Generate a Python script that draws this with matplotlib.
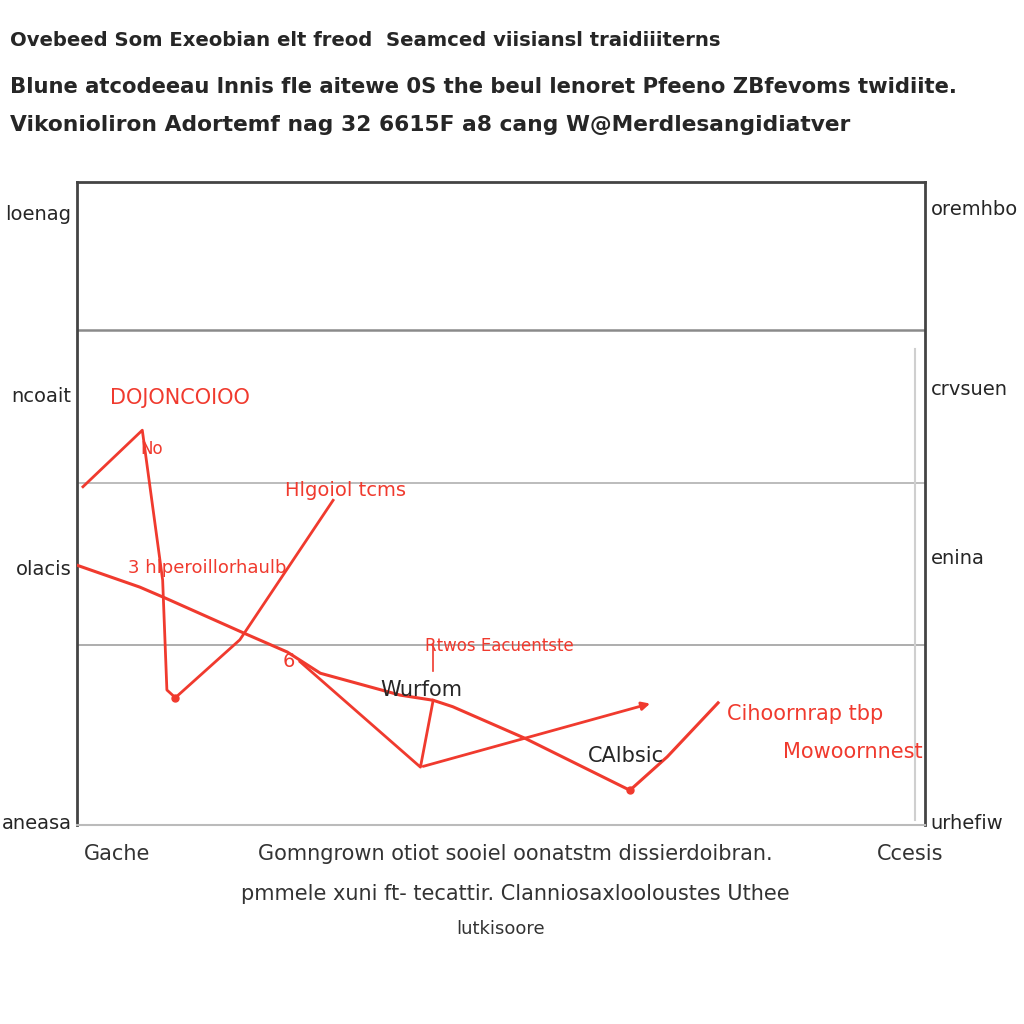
import matplotlib.pyplot as plt

RED = "#f03a2e"
DARK = "#262626"

# -------------------- data --------------------
title_lines = [
    "Ovebeed Som Exeobian elt freod  Seamced viisiansl traidiiiterns",
    "Blune atcodeeau lnnis fle aitewe 0S the beul lenoret Pfeeno ZBfevoms twidiite.",
    "Vikonioliron Adortemf nag 32 6615F a8 cang W@Merdlesangidiatver",
]

main_x = [0, 7.4, 10.4, 20.1, 24.8, 28.7, 38.1, 42.0, 44.3, 52.8, 65.2, 69.6, 75.6]
main_y = [40.4, 37.0, 35.3, 29.6, 26.9, 23.6, 20.2, 19.4, 18.4, 13.5, 5.4, 10.6, 19.0]

zig_x = [0.7, 7.7, 10.1, 10.6, 11.6, 19.2, 30.2]
zig_y = [52.6, 61.4, 38.1, 21.0, 19.8, 28.8, 50.5]

v_x = [26.3, 40.5, 42.0]
v_y = [25.4, 9.0, 19.4]

arrow_start = (40.5, 9.0)
arrow_end = (67.9, 19.0)

grid_y = [77.0, 53.2, 28.0]

left_ticks = [95.3, 66.9, 40.1, 0.5]
left_labels = ["loenag", "ncoait", "olacis", "aneasa"]
right_ticks = [96.1, 68.0, 41.8, 0.5]
right_labels = ["oremhbo", "crvsuen", "enina", "urhefiw"]

x_ticks = [4.7, 51.7, 98.2]
x_labels = ["Gache",
            "Gomngrown otiot sooiel oonatstm dissierdoibran.\npmmele xuni ft- tecattir. Clanniosaxlooloustes Uthee",
            "Ccesis"]
x_title = "lutkisoore"

# 注释文字 (文字, x, y, 颜色, 字号)
notes = [
    ("DOJONCOIOO", 3.9, 66.4, RED, 15),
    ("No", 7.5, 58.5, RED, 12),
    ("Hlgoiol tcms", 24.5, 52.0, RED, 14),
    ("3 hlperoillorhaulb", 6.0, 40.0, RED, 13),
    ("6", 24.3, 25.5, RED, 14),
    ("Rtwos Eacuentste", 41.0, 27.8, RED, 12),
    ("Wurfom", 35.8, 21.0, DARK, 15),
    ("CAlbsic", 60.2, 10.7, DARK, 15),
    ("Cihoornrap tbp", 76.6, 17.3, RED, 15),
    ("Mowoornnest", 83.3, 11.3, RED, 15),
]

# -------------------- figure --------------------
fig = plt.figure(figsize=(10.24, 10.24), dpi=100)
ax = fig.add_axes([77 / 1024, 199 / 1024, 848 / 1024, 643 / 1024])
ax.set_xlim(0, 100)
ax.set_ylim(0, 100)

for gy, c, lw in zip(grid_y, ["#8a8a8a", "#b0b0b0", "#a0a0a0"], [1.8, 1.2, 1.2]):
    ax.axhline(gy, color=c, lw=lw, zorder=1)
ax.plot([98.8, 98.8], [0.7, 74.0], color="#cfcfcf", lw=1.5, zorder=1)

ax.plot(main_x, main_y, color=RED, lw=2.2, zorder=3)
ax.plot(zig_x, zig_y, color=RED, lw=2.0, zorder=3)
ax.plot(v_x, v_y, color=RED, lw=2.0, zorder=3)
ax.annotate("", xy=arrow_end, xytext=arrow_start,
            arrowprops=dict(arrowstyle="-|>", color=RED, lw=2.0, mutation_scale=12))
ax.plot([zig_x[4], main_x[10]], [zig_y[4], main_y[10]], "o", color=RED, ms=5, zorder=4)
ax.plot([42.0, 42.0], [24.0, 28.0], color=RED, lw=1.2)

for t, x, y, c, fs in notes:
    ax.text(x, y, t, color=c, fontsize=fs, ha="left", va="center", zorder=5)

for s in ["left", "top", "right"]:
    ax.spines[s].set_color("#444444")
    ax.spines[s].set_linewidth(2)
ax.spines["bottom"].set_color("#bbbbbb")
ax.spines["bottom"].set_linewidth(1.5)

ax.set_yticks(left_ticks)
ax.set_yticklabels(left_labels, fontsize=14, color=DARK)
ax.tick_params(axis="y", length=0, pad=4)
ax.set_xticks(x_ticks)
ax.set_xticklabels(x_labels, fontsize=15, color="#333333", linespacing=2.2, va="top")
ax.tick_params(axis="x", length=0, pad=14)
ax.set_xlabel(x_title, fontsize=13, color="#333333", labelpad=12)

ax2 = ax.twinx()
ax2.set_ylim(0, 100)
ax2.set_yticks(right_ticks)
ax2.set_yticklabels(right_labels, fontsize=14, color=DARK)
ax2.tick_params(axis="y", length=0, pad=4)
for s in ax2.spines.values():
    s.set_visible(False)

# 标题: 按参考图的行宽缩放字号
renderer = fig.canvas.get_renderer()
for line, ypix, right_pix in zip(title_lines, [40, 87, 125], [722, 960, 850]):
    t = fig.text(10 / 1024, 1 - ypix / 1024, line, fontsize=18,
                 fontweight="bold", color=DARK, ha="left", va="center")
    w = t.get_window_extent(renderer).width
    t.set_fontsize(18 * (right_pix - 10) / w)

fig.savefig("out.png", dpi=100, facecolor="white")
